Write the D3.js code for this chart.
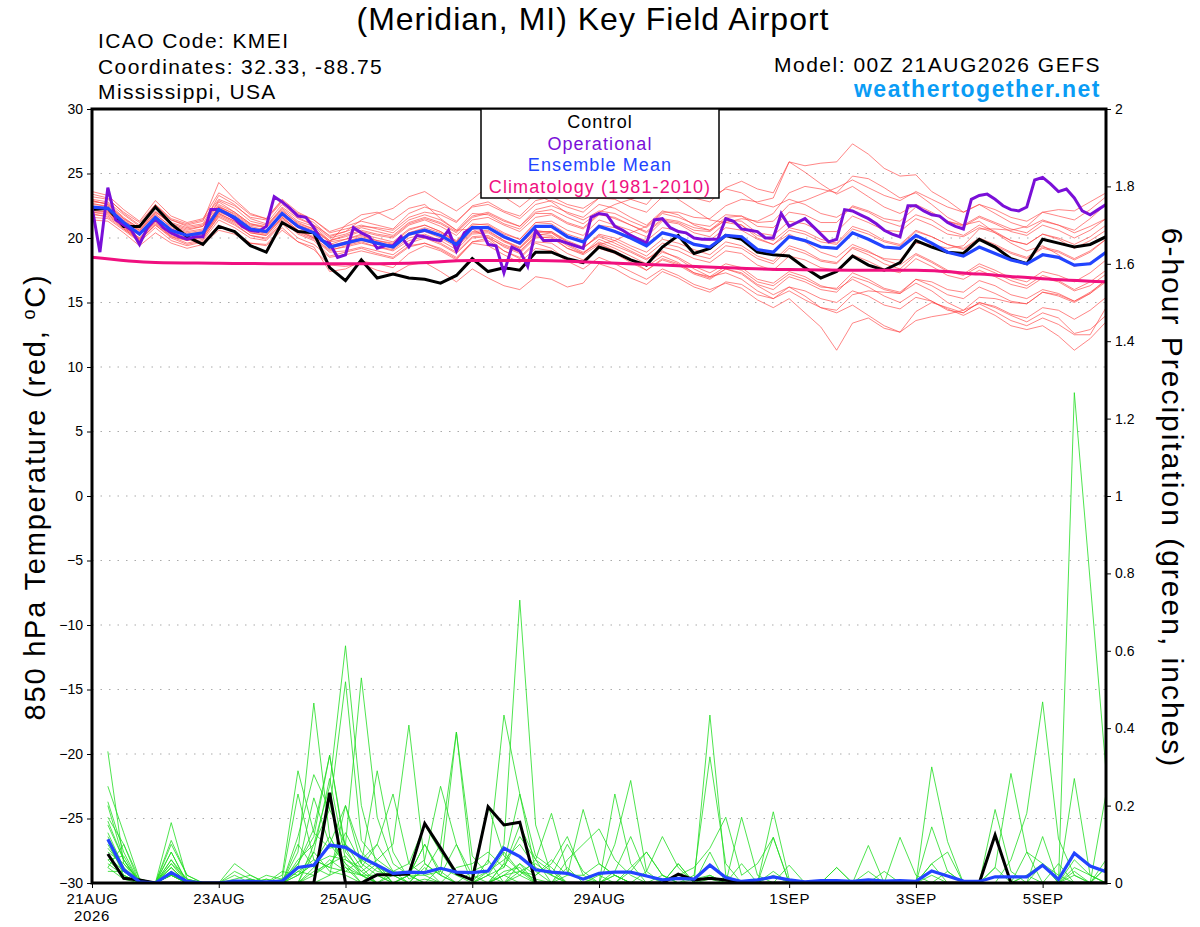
<!DOCTYPE html>
<html>
<head>
<meta charset="utf-8">
<script src="https://cdn.jsdelivr.net/npm/d3@7"></script>
<style>
  body { margin: 0; background: #fff; }
  svg { font-family: "Liberation Sans", Arial, Helvetica, sans-serif; }
  .tick text { font-size: 14px; fill: #000; }
  .tick line { stroke: #000; stroke-width: 1; }
</style>
</head>
<body>
<svg id="canvas" width="1200" height="927"></svg>
<script>
// ---- data (6-hourly from 00Z 21AUG2026, hours 0..384) ----
let tickHours = [0, 48, 96, 144, 192, 264, 312, 360];
let tickLabels = ['21AUG', '23AUG', '25AUG', '27AUG', '29AUG', '1SEP', '3SEP', '5SEP'];
let tempTicks = [-30, -25, -20, -15, -10, -5, 0, 5, 10, 15, 20, 25, 30];
let precipTicks = [0, 0.2, 0.4, 0.6, 0.8, 1, 1.2, 1.4, 1.6, 1.8, 2];

let controlTemp = [
  22.2, 22.3, 20.9, 20.9, 22.4, 21.1, 20.1, 19.5,
  20.9, 20.5, 19.4, 18.9, 21.2, 20.5, 20.4, 17.7,
  16.7, 18.3, 16.9, 17.2, 16.9, 16.8, 16.5, 17.1,
  18.4, 17.4, 17.7, 17.5, 18.9, 18.9, 18.4, 18.1,
  19.3, 18.9, 18.3, 17.9, 19.3, 20.2, 18.8, 19.2,
  20.2, 19.9, 18.9, 18.7, 18.6, 17.7, 16.9, 17.4,
  18.6, 17.9, 17.5, 18.1, 19.8, 19.3, 18.9, 18.8,
  19.9, 19.3, 18.4, 18.0, 19.9, 19.6, 19.3, 19.5,
  20.1];

let meanTemp = [
  22.4, 22.3, 21.2, 20.3, 21.6, 20.6, 20.2, 20.4,
  22.2, 21.6, 20.7, 20.5, 21.9, 20.9, 20.4, 19.3,
  19.6, 19.9, 19.6, 19.3, 20.3, 20.6, 20.2, 19.5,
  20.8, 20.8, 20.1, 19.6, 20.9, 20.9, 20.1, 19.7,
  20.9, 20.5, 20.0, 19.4, 20.4, 20.1, 19.5, 19.3,
  20.2, 20.1, 19.1, 18.9, 20.1, 19.8, 19.3, 19.2,
  20.4, 19.9, 19.3, 19.2, 20.2, 19.6, 18.9, 18.6,
  19.3, 18.8, 18.3, 18.0, 18.7, 18.5, 17.9, 18.0,
  18.9];

// operational run is 3-hourly
let operTemp = [
  22.4, 18.9, 23.9, 21.4, 21.0, 20.6, 19.5, 20.8,
  21.5, 20.8, 20.4, 20.1, 19.9, 20.1, 20.1, 22.2,
  22.2, 21.9, 21.5, 20.9, 20.6, 20.5, 20.9, 23.2,
  22.8, 22.3, 21.7, 21.6, 20.8, 19.8, 19.6, 18.5,
  18.7, 20.8, 20.4, 20.1, 19.2, 19.4, 19.4, 20.1,
  19.3, 20.2, 20.1, 19.9, 19.8, 20.6, 19.0, 20.4,
  20.8, 20.8, 19.5, 19.4, 17.3, 19.3, 19.0, 17.8,
  20.6, 19.8, 19.8, 19.8, 19.6, 19.4, 19.2, 21.6,
  21.9, 21.8, 20.9, 20.6, 20.2, 19.9, 19.6, 21.4,
  21.5, 20.8, 20.5, 20.4, 20.0, 19.9, 19.9, 19.9,
  21.5, 21.3, 20.7, 20.6, 20.5, 20.0, 20.0, 21.9,
  20.9, 21.2, 21.5, 20.9, 20.3, 19.7, 19.9, 22.2,
  22.1, 21.8, 21.5, 21.1, 20.6, 20.3, 20.1, 22.5,
  22.5, 22.1, 21.8, 21.7, 21.2, 20.9, 20.7, 23.0,
  23.3, 23.4, 23.0, 22.5, 22.2, 22.1, 22.4, 24.5,
  24.7, 24.2, 23.6, 23.8, 23.1, 22.1, 21.8, 22.2,
  22.6];

// climatology, daily (hours 0, 24, ... 384)
let climTemp = [18.5, 18.1, 18.05, 18.0, 18.0, 18.05, 18.25, 18.25, 18.1,
                17.9, 17.7, 17.55, 17.5, 17.5, 17.2, 16.85, 16.6];

let tempMembers = [
  [22.9,22.6,21.5,20.8,22.1,21.0,20.6,20.9, 22.8,22.0,21.1,20.9,22.4,21.5,21.0,20.2, 20.5,20.9,20.8,20.6,21.6,22.0,21.8,21.2, 22.5,22.8,22.1,21.7,22.9,23.2,22.6,22.3, 23.1,23.0,22.4,22.0,23.2,23.6,23.1,22.8, 23.9,24.4,23.8,23.5,25.9,25.6,25.8,25.9, 27.3,26.5,25.4,24.8,24.9,23.6,22.9,22.0, 22.6,21.9,21.2,20.8,21.4,21.0,20.4,20.9, 21.5],
  [22.0,21.8,20.9,20.0,21.2,20.1,19.8,20.0, 21.6,21.0,20.2,20.0,21.4,20.3,19.8,18.6, 18.9,19.2,18.8,18.5,19.4,19.6,19.1,18.4, 19.6,19.4,18.7,18.1,19.2,19.0,18.2,17.6, 18.5,18.0,17.4,16.8,17.6,17.1,16.4,16.0, 16.5,16.1,15.2,14.6,15.3,14.2,13.1,11.3, 13.4,13.8,13.0,12.7,14.3,15.0,14.6,14.2, 15.0,14.6,14.0,13.5,14.2,13.8,12.6,12.9, 14.0],
  [22.6,22.5,21.4,20.5,21.9,20.8,20.4,20.6, 22.5,21.8,20.9,20.6,22.0,21.0,20.6,19.7, 19.9,20.2,19.8,19.5,20.4,20.7,20.2,19.4, 20.5,20.6,19.8,19.2,20.3,20.2,19.4,18.8, 19.7,19.2,18.6,18.0,18.9,18.5,17.8,17.3, 18.0,17.7,16.8,16.5,17.4,17.0,16.3,16.0, 16.8,16.2,15.5,15.0,15.8,15.1,14.5,14.0, 14.6,14.0,13.2,12.9,13.2,12.4,11.3,12.2, 13.5],
  [23.4,23.1,21.9,21.0,22.6,21.4,21.0,21.3, 24.3,23.0,21.9,21.5,23.0,22.0,21.4,20.5, 20.9,21.3,21.0,20.7,21.9,22.4,22.0,21.3, 22.4,22.6,22.0,21.5,22.6,22.9,22.4,22.0, 23.1,23.4,23.0,22.6,24.0,24.5,23.9,23.2, 23.8,23.5,22.7,22.4,23.0,22.6,21.9,21.6, 22.4,22.0,21.3,20.9,21.8,21.4,20.6,20.2, 21.0,20.5,19.8,19.5,20.3,19.9,19.2,19.8, 20.6],
  [22.1,22.0,20.8,19.9,21.0,20.1,19.6,19.9, 21.7,21.1,20.2,19.9,21.2,20.4,19.9,18.9, 19.0,19.3,19.0,18.7,19.6,20.0,19.5,18.8, 20.0,20.1,19.3,18.8,20.0,20.1,19.2,18.8, 19.9,19.4,18.9,18.3,19.3,19.0,18.4,18.1, 19.0,18.8,17.9,17.5,18.6,18.3,17.7,17.5, 18.7,18.2,17.6,17.3,18.4,17.8,17.1,16.8, 17.5,17.0,16.4,16.1,16.9,16.6,15.9,16.3, 17.2],
  [22.7,22.4,21.3,20.6,21.8,20.9,20.5,20.7, 22.4,21.9,21.0,20.8,22.3,21.3,20.9,19.8, 20.1,20.5,20.2,20.0,21.0,21.4,20.9,20.2, 21.4,21.6,21.0,20.5,21.6,21.8,21.1,20.7, 21.8,21.6,21.0,20.5,21.5,21.3,20.8,20.6, 21.6,21.7,21.2,21.3,22.6,22.9,23.4,23.9, 24.5,23.9,23.3,22.9,23.6,23.0,22.4,22.0, 22.6,22.2,21.6,21.3,22.0,21.7,21.4,22.2, 23.2],
  [21.6,21.5,20.6,19.7,20.8,19.8,19.4,19.7, 21.0,20.5,19.6,19.5,20.8,19.7,19.1,17.9, 17.8,18.0,17.5,17.2,17.9,18.1,17.4,16.6, 17.6,16.9,16.3,16.0,17.0,16.8,16.2,16.5, 18.0,17.6,16.9,16.4,17.4,16.9,16.2,15.8, 16.6,16.4,15.6,15.3,16.2,15.9,15.3,15.0, 15.9,15.5,14.8,14.5,15.4,15.1,14.4,14.2, 15.0,14.7,14.1,13.8,14.6,14.4,13.7,14.4, 15.4],
  [23.0,22.8,21.8,20.9,22.4,21.4,20.9,21.1, 23.3,22.6,21.5,21.1,22.6,21.6,21.0,20.0, 20.3,20.8,20.5,20.2,21.2,21.6,21.2,20.5, 21.7,22.0,21.4,20.9,22.0,22.2,21.6,21.1, 22.0,22.6,23.0,23.4,23.8,23.0,22.2,21.4, 21.2,21.0,20.2,19.8,20.8,20.5,19.9,19.6, 20.9,20.5,19.8,19.5,20.6,20.1,19.5,19.1, 19.9,19.4,18.8,18.4,19.2,18.9,18.3,18.9, 19.9],
  [22.3,22.1,21.0,20.2,21.5,20.5,20.0,20.3, 22.0,21.5,20.6,20.4,21.7,20.8,20.3,19.4, 19.7,20.0,19.7,19.4,20.4,20.8,20.4,19.7, 21.0,21.1,20.4,19.9,21.2,21.3,20.6,20.2, 21.4,21.0,20.6,20.1,21.3,21.1,20.4,20.1, 21.2,21.5,21.3,21.9,23.5,24.0,23.8,23.5, 24.8,24.6,23.9,23.1,23.5,22.6,21.6,21.0, 21.3,20.4,19.6,19.0,19.4,18.7,17.8,18.1, 18.9],
  [21.9,21.6,20.7,19.8,21.1,20.2,19.8,20.1, 21.9,21.3,20.4,20.2,21.6,20.6,20.0,19.0, 19.4,19.7,19.3,19.1,20.0,20.3,19.8,19.1, 20.3,20.4,19.7,19.2,20.4,20.5,19.8,19.3, 20.1,19.6,19.0,18.4,19.0,18.4,17.6,17.0, 17.3,16.8,15.9,15.3,15.9,15.2,14.6,14.4, 15.6,15.9,15.8,15.7,16.8,16.6,16.0,15.8, 16.7,16.3,15.6,15.3,16.0,15.7,15.1,15.7, 16.6],
  [23.2,23.0,22.0,21.2,22.6,21.5,21.1,21.4, 23.0,22.5,21.6,21.4,22.8,21.9,21.4,20.4, 20.7,21.0,20.7,20.4,21.4,21.8,21.4,20.6, 21.9,21.8,21.1,20.7,21.9,21.9,21.2,20.8, 21.9,21.5,21.0,20.4,21.4,21.2,20.6,20.5, 21.4,21.3,20.4,20.2,21.3,21.1,20.5,20.5, 21.7,21.2,20.6,20.5,21.5,21.0,20.3,20.1, 20.8,20.4,19.8,19.5,20.3,20.0,19.5,20.1, 21.0],
  [21.4,21.3,20.4,19.4,20.4,19.6,19.2,19.5, 20.6,20.3,19.6,19.4,20.6,19.7,19.3,17.4, 17.6,18.2,18.0,17.7,18.8,19.4,19.0,18.3, 19.7,20.0,19.4,18.9,20.2,20.4,19.7,19.2, 20.3,20.0,19.4,18.9,19.9,19.6,19.1,18.7, 19.7,19.4,18.6,18.2,19.4,19.0,18.3,18.1, 19.2,18.7,18.0,17.6,18.7,18.1,17.4,17.1, 17.8,17.3,16.7,16.3,17.1,16.7,16.0,16.6, 17.5],
  [22.5,22.2,21.1,20.3,21.7,20.6,20.2,20.4, 22.1,21.5,20.6,20.4,21.8,20.8,20.3,19.2, 19.5,19.8,19.5,19.2,20.2,20.5,20.0,19.3, 20.4,20.5,19.8,19.3,20.5,20.5,19.7,19.2, 20.2,19.8,19.2,18.6,19.6,19.3,18.7,18.4, 19.4,19.2,18.4,18.0,19.2,18.8,18.2,18.0, 19.3,18.9,18.4,18.3,19.6,19.5,19.2,19.4, 20.7,20.7,20.6,20.9,22.0,22.2,22.1,22.8, 23.5],
  [22.8,22.7,21.6,20.7,22.0,21.2,20.8,21.0, 22.9,22.3,21.3,21.0,22.2,21.1,20.7,19.8, 20.2,20.6,20.3,20.1,21.1,21.5,21.1,20.4, 21.6,21.9,21.3,20.9,22.2,22.5,22.0,21.6, 22.6,22.3,21.6,21.0,22.1,21.8,21.0,20.6, 21.4,21.0,20.0,19.5,20.3,19.7,18.9,18.5, 19.5,19.0,18.3,17.9,18.8,18.2,17.5,17.2, 18.0,17.5,16.9,16.6,17.4,17.1,16.6,17.3, 18.3],
  [22.2,22.0,20.9,20.0,21.3,20.3,19.9,20.1, 21.8,21.2,20.4,20.2,21.5,20.5,20.0,19.1, 19.3,19.6,19.3,19.0,19.8,20.1,19.6,18.9, 20.1,20.2,19.5,19.0,20.1,20.0,19.2,18.7, 19.5,19.0,18.3,17.8,18.6,18.1,17.3,16.9, 17.6,17.2,16.3,15.6,16.2,15.5,14.6,14.2, 14.8,14.0,13.2,12.7,13.6,13.9,14.1,14.4, 15.4,15.3,15.0,14.9,15.8,15.6,15.1,15.8, 16.7],
  [22.9,22.6,21.5,20.6,22.0,21.1,20.7,20.9, 22.6,22.0,21.1,20.8,22.1,21.2,20.7,19.7, 21.0,21.8,22.0,21.4,22.3,22.6,21.5,20.6, 20.7,20.0,19.0,18.4,19.6,19.2,18.3,18.0, 19.5,19.8,20.4,20.9,22.0,22.0,21.6,21.5, 22.5,23.0,22.8,23.1,25.9,25.1,24.2,23.4, 24.0,23.2,22.4,21.9,22.6,22.0,21.3,20.9, 21.6,21.1,20.5,20.2,21.0,20.6,20.0,20.6, 21.5],
  [21.8,21.7,20.8,19.9,21.3,20.3,19.9,20.2, 21.9,21.3,20.5,20.3,21.6,20.6,20.1,19.3, 19.7,20.1,19.8,19.6,20.6,21.0,20.5,19.8, 21.1,21.0,20.3,19.9,21.2,21.1,20.3,19.9, 21.0,20.8,20.2,19.8,20.8,20.6,20.0,19.8, 20.8,20.6,19.9,19.5,20.6,20.3,19.7,19.5, 20.7,20.3,19.7,19.4,20.5,20.1,19.5,19.2, 20.0,19.5,18.9,18.5,19.3,19.0,18.4,19.0, 19.9],
  [22.4,22.3,21.2,20.4,21.6,20.7,20.3,20.5, 22.4,21.7,20.8,20.5,21.9,21.0,20.5,19.5, 19.9,20.3,20.0,19.7,20.7,21.0,20.5,19.7, 20.9,20.8,20.0,19.5,20.6,20.4,19.5,18.9, 19.6,19.0,18.3,17.5,18.3,17.9,17.2,16.8, 17.6,17.3,16.4,16.0,17.0,16.6,16.0,15.8, 17.0,16.6,16.0,15.7,16.5,15.9,15.0,14.4, 14.9,14.3,13.6,13.2,13.8,13.3,12.5,12.5, 14.6],
  [23.6,23.3,22.2,21.3,22.9,21.7,21.2,21.5, 23.5,22.8,21.8,21.5,22.9,21.8,21.2,20.1, 20.5,21.4,21.9,22.3,23.2,23.6,22.8,22.1, 23.0,24.0,23.2,22.4,23.4,22.8,21.9,21.4, 22.1,21.9,21.3,20.8,21.9,21.6,21.1,20.9, 21.8,21.7,20.9,20.8,22.0,21.8,21.2,21.2, 22.5,22.1,21.5,21.3,22.4,21.9,21.3,21.0, 21.7,21.2,20.7,20.4,21.3,21.0,20.6,21.5, 22.6],
  [22.0,21.9,20.7,19.8,21.0,20.0,19.5,19.8, 21.4,20.8,20.0,19.8,21.1,20.0,19.5,18.5, 18.7,19.0,18.7,18.4,19.3,19.6,19.2,18.5, 19.7,19.8,19.0,18.5,19.7,19.6,18.8,18.3, 19.2,18.8,18.1,17.5,18.4,18.0,17.3,17.0, 17.8,17.5,16.6,16.3,17.2,16.8,16.2,16.1, 17.3,16.8,16.1,15.8,16.8,16.3,15.6,15.3, 16.2,15.7,15.1,14.9,15.8,15.5,15.0,15.7, 16.8]
];

// precipitation, 6-hour totals ending at hours 6..384
let controlPrecip = [
  0.075,0.012,0.008,0,0,0,0,0,
  0,0,0,0,0,0,0.233,0,
  0,0.021,0.021,0.023,0.154,0.09,0.025,0.008,
  0.197,0.15,0.157,0,0,0,0,0,
  0,0,0,0,0.023,0.008,0.012,0.008,
  0,0,0,0,0,0,0,0,
  0,0,0,0,0,0,0,0,
  0.124,0,0,0,0,0,0,0];

let meanPrecip = [
  0.113,0.034,0.003,0,0.027,0.004,0,0,
  0.005,0.004,0.003,0.005,0.04,0.046,0.098,0.092,
  0.066,0.046,0.025,0.028,0.027,0.038,0.028,0.027,
  0.031,0.09,0.068,0.034,0.028,0.025,0.01,0.025,
  0.028,0.028,0.018,0.008,0.012,0.01,0.046,0.014,
  0.004,0.008,0.016,0.008,0.003,0.006,0.006,0.004,
  0.008,0.005,0.006,0.004,0.031,0.018,0.005,0.004,
  0.016,0.016,0.016,0.046,0.009,0.077,0.044,0.029];

let precipMembers = [
  [0.34,0.05,0,0,0.04,0,0,0, 0,0,0.01,0,0.05,0.12,0.33,0.09, 0.02,0,0,0.02,0.1,0.03,0.39,0.02, 0,0.05,0.02,0,0,0,0,0, 0,0,0,0.02,0,0,0.08,0, 0,0,0.184,0.01,0,0,0,0, 0,0,0,0,0.05,0,0,0, 0,0,0.02,0.05,0,1.267,0.78,0.29],
  [0.25,0.13,0.01,0,0.02,0,0,0, 0,0.01,0,0,0.08,0.465,0.12,0.05, 0,0,0.02,0,0,0,0,0.03, 0.05,0.434,0.23,0.03,0,0,0,0, 0,0,0,0,0,0,0,0, 0,0,0.02,0,0,0,0,0, 0,0,0,0,0,0.03,0,0, 0,0.06,0.18,0.468,0.114,0.02,0,0.04],
  [0.21,0.08,0,0,0.156,0.01,0,0, 0.02,0,0,0,0,0.1,0.25,0.613, 0.2,0.04,0,0,0.05,0.02,0,0, 0.03,0.1,0.731,0.15,0.02,0,0,0, 0,0,0,0,0,0,0.01,0, 0,0,0,0,0,0,0,0, 0,0,0.118,0.02,0,0,0,0, 0,0,0,0,0,0.06,0.02,0],
  [0.17,0.1,0,0,0.11,0.02,0,0, 0,0,0,0.02,0.29,0.13,0.09,0.1, 0.53,0.17,0.05,0.02,0,0,0,0, 0,0,0.02,0.06,0.03,0,0,0, 0.02,0,0,0,0.05,0,0.434,0.02, 0,0,0.03,0,0,0,0,0, 0,0,0,0,0.3,0.107,0,0, 0,0,0,0,0,0,0,0],
  [0.15,0.06,0,0,0.08,0,0,0, 0,0,0,0.01,0.05,0.14,0.33,0.08, 0.03,0.06,0.1,0.408,0.05,0.02,0.1,0, 0,0.02,0.05,0,0,0.04,0,0, 0.1,0.265,0.03,0,0,0,0,0, 0,0,0,0.046,0,0,0,0, 0,0,0,0,0,0,0,0, 0.04,0.283,0.08,0.05,0,0,0,0],
  [0.13,0.04,0,0,0.05,0,0,0, 0.01,0.02,0,0,0.12,0.28,0.19,0.52, 0.11,0.06,0.03,0.05,0.15,0.08,0.02,0, 0,0.05,0.23,0.07,0.04,0,0,0, 0,0,0,0,0,0,0,0, 0,0,0.118,0,0,0,0,0, 0.097,0,0,0,0.145,0.03,0,0, 0.19,0.03,0,0.12,0,0.27,0.02,0],
  [0.1,0.03,0,0,0.1,0.02,0,0, 0,0,0.02,0.01,0.23,0.06,0.04,0.13, 0.05,0.29,0.08,0.01,0.03,0.1,0.39,0.07, 0.02,0,0.05,0.02,0.06,0.02,0.19,0.05, 0.02,0,0,0,0,0,0,0, 0,0,0,0,0,0,0,0, 0,0,0,0,0,0,0,0, 0,0,0,0,0,0.03,0,0.23],
  [0.08,0.05,0.01,0,0.06,0,0,0, 0,0.01,0,0,0,0.04,0.1,0.2, 0.08,0.04,0.02,0.03,0.06,0.25,0.1,0.02, 0.2,0.07,0.03,0.05,0.02,0.1,0.03,0, 0.23,0.05,0,0,0,0.01,0.02,0, 0.05,0,0,0,0,0,0,0, 0,0,0,0,0,0,0,0, 0,0,0,0,0,0,0,0],
  [0.06,0.02,0,0,0.04,0,0,0, 0.03,0.01,0,0,0.02,0.05,0.07,0.06, 0.04,0.1,0.23,0.05,0.02,0,0.04,0.05, 0.08,0.04,0.12,0.06,0.18,0.03,0.01,0, 0,0.04,0.08,0.02,0,0.02,0.326,0.05, 0,0,0,0,0,0,0.04,0, 0,0,0,0,0,0,0,0, 0,0,0,0,0,0,0,0],
  [0.04,0.1,0.01,0,0.06,0.01,0,0, 0,0,0.01,0,0.04,0.22,0.1,0.05, 0.02,0.02,0,0,0,0.04,0.02,0.01, 0.03,0.06,0.1,0.04,0.02,0,0,0, 0.03,0.12,0.02,0,0.02,0.04,0.09,0.17, 0.02,0.05,0.118,0,0,0,0,0, 0,0,0,0,0,0,0,0, 0,0,0,0,0,0,0,0],
  [0.05,0.02,0,0,0.03,0,0,0, 0,0,0,0,0.02,0.08,0.27,0.06, 0.03,0,0,0.02,0.02,0.03,0,0, 0,0,0.03,0.02,0.05,0.12,0.02,0, 0.02,0,0.03,0.12,0.04,0,0,0, 0,0,0,0,0,0,0,0, 0,0,0,0,0.05,0.08,0,0, 0.04,0,0,0,0,0,0,0],
  [0.04,0.01,0,0,0.02,0,0,0, 0,0,0,0,0,0.03,0.05,0.1, 0.06,0.03,0.02,0,0.01,0,0,0, 0,0.02,0.03,0.01,0,0.06,0.1,0.14, 0.06,0.02,0,0,0,0,0.02,0, 0.17,0.02,0,0,0,0,0,0, 0,0,0,0,0,0,0,0, 0,0,0.02,0,0,0,0,0.04],
  [0.2,0.06,0,0,0.08,0,0,0, 0.05,0.02,0,0,0.03,0.06,0.04,0.03, 0.06,0.1,0.03,0,0,0,0,0, 0.06,0,0,0,0,0,0,0, 0,0,0,0,0,0,0,0, 0,0,0,0,0,0,0,0, 0.03,0,0,0,0,0,0,0, 0,0,0,0,0,0.04,0.02,0],
  [0.12,0.04,0,0,0.02,0,0,0, 0,0,0,0,0.06,0.1,0.19,0.1, 0.04,0,0.03,0.02,0.1,0.02,0,0, 0,0.03,0.04,0,0,0,0,0, 0,0,0,0,0.05,0,0,0, 0,0,0,0,0,0,0.04,0, 0,0,0,0,0.02,0,0,0, 0,0,0,0,0,0,0,0],
  [0.09,0.04,0,0,0,0,0,0, 0,0,0,0,0,0,0.02,0.04, 0.02,0,0,0,0,0,0,0, 0.02,0.04,0.15,0.06,0,0.02,0.02,0.05, 0.02,0,0,0,0,0,0,0, 0,0,0,0,0,0,0,0, 0,0.03,0,0,0,0,0,0, 0,0,0.08,0,0,0,0,0],
  [0.07,0.03,0,0,0.02,0,0,0, 0,0,0,0,0.1,0.04,0.02,0.2, 0.05,0.02,0,0,0,0,0,0, 0.02,0.08,0.03,0,0,0,0,0, 0,0.03,0.08,0.02,0,0,0,0, 0,0,0,0,0,0,0,0, 0,0,0,0,0,0,0,0, 0,0,0,0,0.05,0,0,0],
  [0.11,0.02,0,0,0.04,0,0,0, 0,0,0,0.03,0.02,0.05,0.12,0.04, 0,0.04,0,0.02,0,0,0,0, 0,0,0,0,0,0,0,0, 0,0,0,0,0,0,0,0, 0,0,0,0,0,0,0,0, 0,0,0,0,0,0,0,0, 0,0,0,0.05,0.02,0,0,0],
  [0.06,0.07,0,0,0.05,0.01,0,0, 0,0,0,0,0,0.08,0.03,0.02, 0,0,0,0,0.04,0,0,0, 0,0.02,0,0,0,0,0,0.02, 0,0,0,0,0,0,0,0, 0,0,0,0,0,0,0,0, 0,0,0,0,0,0,0,0, 0,0,0,0,0,0.02,0,0],
  [0.03,0.03,0,0,0.02,0,0,0, 0,0,0,0,0,0.02,0.06,0.03, 0.02,0,0,0,0,0,0,0, 0,0,0,0,0,0,0,0, 0,0,0,0,0,0,0,0, 0,0,0,0,0,0,0,0, 0,0,0,0,0,0,0,0, 0,0,0,0,0,0,0,0.06],
  [0.16,0.06,0,0,0.03,0,0,0, 0,0,0,0,0.03,0.02,0.05,0.07, 0.02,0.05,0,0,0,0,0,0, 0,0,0,0,0,0,0,0, 0,0,0,0,0,0,0,0, 0,0,0,0,0,0,0,0, 0,0,0,0,0,0,0,0, 0,0,0,0,0,0,0,0]
];

// ---- layout ----
let plotLeft = 92, plotRight = 1106, plotTop = 109, plotBottom = 883;
let svg = d3.select('#canvas');
svg.append('rect').attr('width', 1200).attr('height', 927).attr('fill', '#fff');

let x = d3.scaleLinear().domain([0, 384]).range([plotLeft, plotRight]);
let yT = d3.scaleLinear().domain([-30, 30]).range([plotBottom, plotTop]);
let yP = d3.scaleLinear().domain([0, 2]).range([plotBottom, plotTop]);

let hours6 = d3.range(0, 385, 6);
let hours3 = d3.range(0, 385, 3);
let hoursDay = d3.range(0, 385, 24);
let hoursP = d3.range(6, 385, 6);

// grid
svg.append('g').selectAll('line')
  .data(tempTicks.filter(d => d > -30 && d < 30))
  .enter().append('line')
  .attr('x1', plotLeft).attr('x2', plotRight)
  .attr('y1', d => yT(d)).attr('y2', d => yT(d))
  .attr('stroke', '#aaa').attr('stroke-width', 1.2)
  .attr('stroke-dasharray', '1.5,7');

svg.append('clipPath').attr('id', 'plotclip')
  .append('rect').attr('x', plotLeft).attr('y', plotTop)
  .attr('width', plotRight - plotLeft).attr('height', plotBottom - plotTop);

let plot = svg.append('g').attr('clip-path', 'url(#plotclip)');

let lineT = hrs => d3.line().x((d, i) => x(hrs[i])).y(d => yT(d));
let lineP = d3.line().x((d, i) => x(hoursP[i])).y(d => yP(d));

// temperature members
plot.append('g').selectAll('path')
  .data(tempMembers).enter().append('path')
  .attr('d', lineT(hours6))
  .attr('fill', 'none').attr('stroke', '#ff4040')
  .attr('stroke-width', 0.75).attr('stroke-opacity', 0.85);

// precipitation members
plot.append('g').selectAll('path')
  .data(precipMembers).enter().append('path')
  .attr('d', lineP)
  .attr('fill', 'none').attr('stroke', '#22dd22')
  .attr('stroke-width', 0.8);

// control / operational / mean / climatology
plot.append('path').datum(controlTemp).attr('d', lineT(hours6))
  .attr('fill', 'none').attr('stroke', '#000').attr('stroke-width', 3);
plot.append('path').datum(operTemp).attr('d', lineT(hours3))
  .attr('fill', 'none').attr('stroke', '#7a0fd8').attr('stroke-width', 3);
plot.append('path').datum(meanTemp).attr('d', lineT(hours6))
  .attr('fill', 'none').attr('stroke', '#2244ff').attr('stroke-width', 3.2);
plot.append('path').datum(climTemp)
  .attr('d', d3.line().x((d, i) => x(hoursDay[i])).y(d => yT(d)).curve(d3.curveMonotoneX))
  .attr('fill', 'none').attr('stroke', '#f0107f').attr('stroke-width', 3);

plot.append('path').datum(controlPrecip).attr('d', lineP)
  .attr('fill', 'none').attr('stroke', '#000').attr('stroke-width', 3);
plot.append('path').datum(meanPrecip).attr('d', lineP)
  .attr('fill', 'none').attr('stroke', '#2244ff').attr('stroke-width', 3.2);

// axes
let axL = svg.append('g').attr('transform', 'translate(' + plotLeft + ',0)')
  .call(d3.axisLeft(yT).tickValues(tempTicks).tickSize(5).tickPadding(4));
let axR = svg.append('g').attr('transform', 'translate(' + plotRight + ',0)')
  .call(d3.axisRight(yP).tickValues(precipTicks).tickSize(5).tickPadding(4)
    .tickFormat(d3.format('~g')));
let axB = svg.append('g').attr('transform', 'translate(0,' + plotBottom + ')')
  .call(d3.axisBottom(x).tickValues(tickHours).tickSize(5).tickPadding(5)
    .tickFormat((d, i) => tickLabels[i]));
[axL, axR, axB].forEach(a => a.select('.domain').remove());
axB.selectAll('.tick text').style('font-size', '15px').style('letter-spacing', '0.6px');
axB.append('text').attr('x', x(0)).attr('y', 38)
  .attr('text-anchor', 'middle').attr('fill', '#000')
  .style('font-size', '15px').style('letter-spacing', '0.6px').text('2026');

// frame
svg.append('rect').attr('x', plotLeft).attr('y', plotTop)
  .attr('width', plotRight - plotLeft).attr('height', plotBottom - plotTop)
  .attr('fill', 'none').attr('stroke', '#000').attr('stroke-width', 3);

// titles
svg.append('text').attr('x', 593).attr('y', 30).attr('text-anchor', 'middle')
  .style('font-size', '32px').style('letter-spacing', '1px')
  .text('(Meridian, MI) Key Field Airport');

let info = ['ICAO Code: KMEI', 'Coordinates: 32.33, -88.75', 'Mississippi, USA'];
svg.append('g').selectAll('text').data(info).enter().append('text')
  .attr('x', 98).attr('y', (d, i) => 48 + i * 25.5)
  .style('font-size', '21px').style('letter-spacing', '1.4px').text(d => d);

svg.append('text').attr('x', 1101).attr('y', 72).attr('text-anchor', 'end')
  .style('font-size', '21px').style('letter-spacing', '1.5px')
  .text('Model: 00Z 21AUG2026 GEFS');
svg.append('text').attr('x', 1101).attr('y', 97).attr('text-anchor', 'end')
  .style('font-size', '23px').style('font-weight', 'bold').style('letter-spacing', '1.5px')
  .attr('fill', '#0a9cf5')
  .text('weathertogether.net');

// legend
svg.append('rect').attr('x', 481).attr('y', 109).attr('width', 238).attr('height', 89)
  .attr('fill', '#fff').attr('stroke', '#000').attr('stroke-width', 1.5);
let legendItems = ['Control', 'Operational', 'Ensemble Mean', 'Climatology (1981-2010)'];
let legendColors = ['#000', '#7a0fd8', '#2244ff', '#f0107f'];
svg.append('g').selectAll('text').data(legendItems).enter().append('text')
  .attr('x', 600).attr('y', (d, i) => 128 + i * 21.5)
  .attr('text-anchor', 'middle').attr('fill', (d, i) => legendColors[i])
  .style('font-size', '18px').style('letter-spacing', '1.1px').text(d => d);

// axis titles
let yl = svg.append('text').attr('transform', 'translate(45,497) rotate(-90)')
  .attr('text-anchor', 'middle').style('font-size', '29px').style('letter-spacing', '1.8px');
yl.append('tspan').text('850 hPa Temperature (red, ');
yl.append('tspan').attr('baseline-shift', 'super').style('font-size', '18px').text('o');
yl.append('tspan').text('C)');

svg.append('text').attr('transform', 'translate(1162,498) rotate(90)')
  .attr('text-anchor', 'middle').style('font-size', '30px').style('letter-spacing', '2px')
  .text('6-hour Precipitation (green, inches)');
</script>
</body>
</html>
